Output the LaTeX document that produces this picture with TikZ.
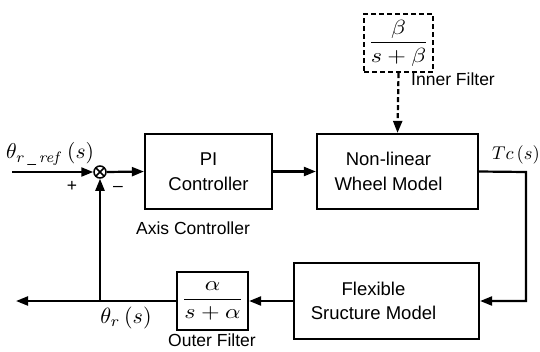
\documentclass[tikz,border=0pt]{standalone}
\usepackage{amsmath}
\usepackage{graphicx}
\usepackage[no-math]{fontspec}
\setmainfont{Liberation Sans}
\usetikzlibrary{arrows.meta}
\begin{document}
\begin{tikzpicture}[x=1pt,y=-1pt,
  ln/.style={line width=2.2pt},
  arr/.style={ln,-{Triangle[length=12pt,width=9pt]}},
  blk/.style={draw,line width=2.2pt,inner sep=0pt,align=center,
    font=\fontsize{18.5}{24.5}\selectfont},
  lbl/.style={inner sep=0pt,font=\fontsize{17.5}{19}\selectfont},
  mlbl/.style={inner sep=0pt,font=\fontsize{10}{12}\selectfont},
  frac/.style={draw,line width=2.2pt,inner sep=0pt,font=\fontsize{10}{12}\selectfont}
]
\useasboundingbox (0,0) rectangle (540,351);
% blocks
\node[blk,minimum width=127pt,minimum height=75pt] (pi) at (208.5,171.5) {PI\\Controller};
\node[blk,minimum width=161pt,minimum height=75pt] (nl) at (397.5,171.5) {Non-linear\hspace*{18pt}\\Wheel Model\hspace*{18pt}};
\node[frac,dash pattern=on 5pt off 3pt,minimum width=69pt,minimum height=58pt] (if) at (398.5,43) {\scalebox{2.4}[2.05]{$\dfrac{\beta}{s+\beta}$}};
\node[blk,minimum width=185pt,minimum height=76pt] (fs) at (386.5,301) {Flexible\hspace*{26pt}\\Sructure Model\hspace*{26pt}};
\node[frac,minimum width=71pt,minimum height=58pt] (of) at (212.5,301) {\scalebox{2.4}[2.05]{$\dfrac{\alpha}{s+\alpha}$}};
\node[circle,draw,line width=1.5pt,minimum size=12pt,inner sep=0pt,
  path picture={\draw[line width=1.5pt] (path picture bounding box.north west)--(path picture bounding box.south east)
  (path picture bounding box.north east)--(path picture bounding box.south west);}] (sum) at (100,172) {};
% coordinates
\coordinate (in) at (12,172);
\coordinate (c1) at (526,172);
\coordinate (fb) at (100,301);
\coordinate (out) at (16,301);
% connectors
\draw[arr] (in) -- (sum.west);
\draw[arr] (sum.east) -- (pi.west);
\draw[arr] (pi.east) -- (nl.west);
\draw[arr,dash pattern=on 5pt off 3pt] (if.south) -- (nl.north);
\draw[arr] (nl.east) -- (c1) |- (fs.east);
\draw[arr] (fs.west) -- (of.east);
\draw[arr] (of.west) -- (out);
\draw[arr] (fb) -- (sum.south);
% labels
\node[mlbl] (lref) at (50,154) {\scalebox{2.15}{$\theta_{r\,\_\,\mathit{ref}}\,(s)$}};
\node[lbl] (plus) at (72,186) {+};
\node[lbl] (minus) at (118,189) {--};
\node[lbl] (axis) at (193,228) {Axis Controller};
\node[lbl,anchor=west] (inner) at (411,79) {Inner Filter};
\node[mlbl] (tc) at (516,155) {\scalebox{1.85}{$Tc\,(s)$}};
\node[mlbl] (thr) at (126,318) {\scalebox{2.2}{$\theta_r\,(s)$}};
\node[lbl] (outer) at (212,340) {Outer Filter};
\end{tikzpicture}
\end{document}
